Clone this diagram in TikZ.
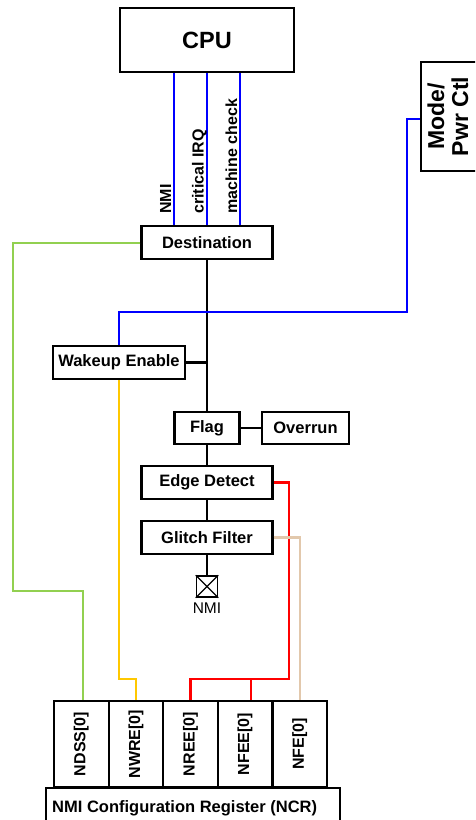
\documentclass[tikz,border=0pt]{standalone}
\usepackage{fontspec}
\setmainfont{Liberation Sans}
\definecolor{wgreen}{RGB}{146,208,80}
\definecolor{wyellow}{RGB}{255,200,0}
\definecolor{wtan}{RGB}{226,200,172}
\definecolor{wblue}{RGB}{0,0,255}
\definecolor{wred}{RGB}{255,0,0}
\tikzset{
  box/.style={draw, line width=2.2pt, rectangle, inner sep=0pt, font=\fontsize{16.5}{19}\selectfont\bfseries},
  wire/.style={line width=2.2pt},
  sig/.style={font=\fontsize{16}{19}\selectfont\bfseries, rotate=90, inner sep=0pt, anchor=base west},
  regtxt/.style={font=\fontsize{16}{19}\selectfont\bfseries, rotate=90, inner sep=0pt},
  cell/.style={draw, line width=2.2pt, rectangle, inner sep=0pt, minimum width=54.6pt, minimum height=86pt},
}
\begin{document}
\begin{tikzpicture}[x=1pt,y=-1pt]
\useasboundingbox (0,0) rectangle (475,820);
\clip (0,0) rectangle (475,820);

% boxes
\node[box, minimum width=174pt, minimum height=64pt, font=\fontsize{23.5}{26}\selectfont\bfseries] (cpu) at (207,40) {CPU};
\node[box, minimum width=100pt, minimum height=109pt, anchor=north west] (mode) at (420,61) {};
\node[rotate=90, align=center, inner sep=0pt, font=\fontsize{23}{24}\selectfont\bfseries] (modetxt) at (448,116.5) {Mode/\\Pwr Ctl};
\node[box, minimum width=131pt, minimum height=33pt] (dest) at (207,242.5) {Destination};
\node[box, minimum width=132pt, minimum height=33pt] (wake) at (119,362.5) {Wakeup Enable};
\node[box, minimum width=65pt, minimum height=32pt] (flag) at (207,428) {Flag};
\node[box, minimum width=87pt, minimum height=32pt] (over) at (305.5,428) {Overrun};
\node[box, minimum width=131pt, minimum height=33pt] (edge) at (207,482.5) {Edge Detect};
\node[box, minimum width=131pt, minimum height=33pt] (glitch) at (207,537.5) {Glitch Filter};
\node[draw, line width=1.6pt, minimum width=21pt, minimum height=21pt, inner sep=0pt] (pin) at (207,586.5) {};
\draw[line width=1.1pt] (pin.north west) -- (pin.south east) (pin.north east) -- (pin.south west);
\node[font=\fontsize{15.5}{18}\selectfont, anchor=base, inner sep=0pt] (nmilbl) at (207,613) {NMI};

% register cells
\node[cell] (ndss) at (81.3,744) {};
\node[cell] (nwre) at (135.9,744) {};
\node[cell] (nree) at (190.5,744) {};
\node[cell] (nfee) at (245.1,744) {};
\node[cell] (nfe)  at (299.7,744) {};
\node[regtxt] (t1) at (ndss) {NDSS[0]};
\node[regtxt] (t2) at (nwre) {NWRE[0]};
\node[regtxt] (t3) at (nree) {NREE[0]};
\node[regtxt] (t4) at (nfee) {NFEE[0]};
\node[regtxt] (t5) at (nfe) {NFE[0]};
\node[draw, line width=2.2pt, rectangle, inner sep=0pt, minimum width=294pt, minimum height=60pt, anchor=north west] (ncr) at (45,787) {};
\node[font=\fontsize{16.5}{19}\selectfont\bfseries, anchor=base west, inner sep=0pt] (ncrlbl) at (52,812) {NMI Configuration Register (NCR)};

% CPU signals
\draw[wire, wblue] ([xshift=-33pt]cpu.south) -- ([xshift=-33pt]dest.north);
\draw[wire, wblue] (cpu.south) -- (dest.north);
\draw[wire, wblue] ([xshift=33pt]cpu.south) -- ([xshift=33pt]dest.north);
\node[sig] (l1) at (171,214) {NMI};
\node[sig] (l2) at (203.5,214) {critical IRQ};
\node[sig] (l3) at (237,214) {machine check};

% main chain
\draw[wire] (dest.south) -- (flag.north);
\draw[wire] (wake.east) -- (wake.east -| dest.south);
\draw[wire] (flag.east) -- (over.west);
\draw[wire] (flag.south) -- (edge.north);
\draw[wire] (edge.south) -- (glitch.north);
\draw[wire] (glitch.south) -- (pin.north);

% mode/power control
\draw[wire, wblue] ([yshift=-2.5pt]mode.west) -| (407,312) -| (wake.north);

% register connections
\draw[wire, wgreen] ([yshift=-0.5pt]dest.west) -| (13,591) -| ([xshift=1.5pt]ndss.north);
\draw[wire, wyellow] (wake.south) -- ++(0,299) -| (nwre.north);
\coordinate (rj) at (251,679);
\draw[wire, wred] (edge.east) -| (289,679) -| (nree.north);
\draw[wire, wred] (rj) -- (rj |- nfee.north);
\draw[wire, wtan] (glitch.east) -| (nfe.north);
\end{tikzpicture}
\end{document}
